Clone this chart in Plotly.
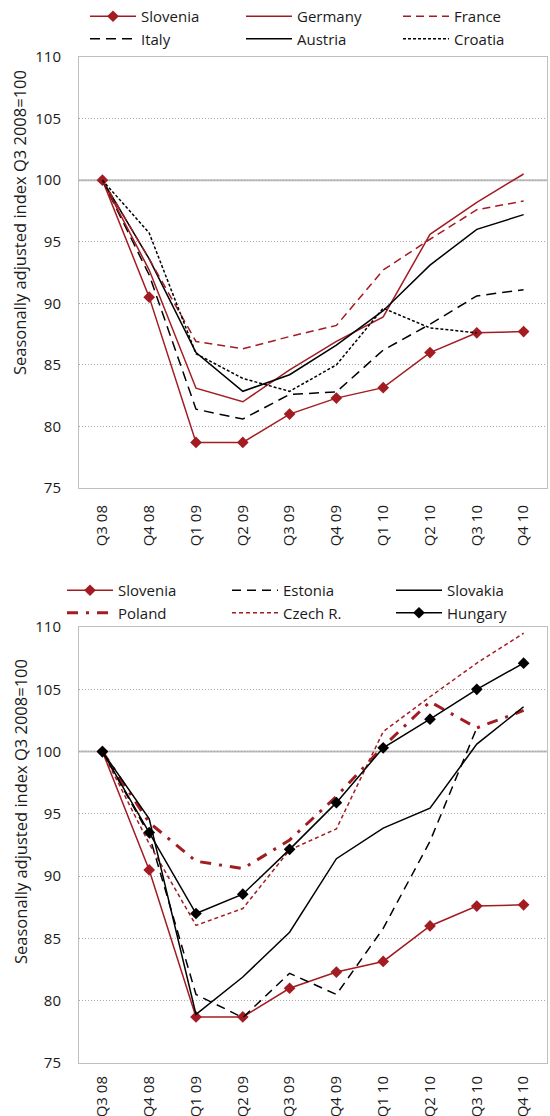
import plotly.graph_objects as go

quarters = ["Q3 08", "Q4 08", "Q1 09", "Q2 09", "Q3 09", "Q4 09", "Q1 10", "Q2 10", "Q3 10", "Q4 10"]

slovenia = [100, 90.5, 78.7, 78.7, 81.0, 82.3, 83.15, 86.0, 87.6, 87.7]
germany = [100, 92.7, 83.1, 82.0, 84.6, 86.9, 88.9, 95.6, 98.2, 100.5]
france = [100, 93.6, 86.9, 86.3, 87.3, 88.2, 92.7, 95.2, 97.6, 98.3]
italy = [100, 92.3, 81.4, 80.6, 82.6, 82.8, 86.2, 88.3, 90.6, 91.1]
austria = [100, 93.6, 86.0, 82.85, 84.2, 86.6, 89.4, 93.1, 96.0, 97.2]
croatia = [100, 95.7, 85.9, 83.9, 82.85, 85.0, 89.6, 88.0, 87.6, None]

estonia = [100, 93.3, 80.5, 78.65, 82.2, 80.5, 85.8, 92.8, 101.9, None]
slovakia = [100, 94.6, 78.9, 81.9, 85.5, 91.4, 93.85, 95.45, 100.6, 103.6]
poland = [100, 94.3, 91.2, 90.6, 92.9, 96.4, 100.4, 104.0, 101.9, 103.3]
czech = [100, 92.6, 86.05, 87.4, 92.1, 93.8, 101.6, 104.4, 107.1, 109.5]
hungary = [100, 93.5, 87.0, 88.55, 92.15, 95.9, 100.3, 102.6, 105.0, 107.1]

y_ticks = [75, 80, 85, 90, 95, 100, 105, 110]
axis_title = "Seasonally adjusted index Q3 2008=100"

RED = "#A21C22"
BLK = "#000000"
TXT = "#1a1a1a"
FONT = "Open Sans"
W, H = 550, 1116
ML, MR = 79, 3
PW = W - ML - MR

fig = go.Figure()

def add(name, ys, color, width, dash, sub, legend, marker=False):
    kw = {}
    if marker:
        mode = "lines+markers"
        kw["marker"] = dict(symbol="diamond", size=9, color=color)
    else:
        mode = "lines"
    fig.add_trace(go.Scatter(
        x=quarters, y=ys, name=name, mode=mode,
        line=dict(color=color, width=width, dash=dash),
        xaxis="x" if sub == 1 else "x2", yaxis="y" if sub == 1 else "y2",
        legend=legend, legendgroup=name + str(sub), connectgaps=False, **kw))

# top chart (legend columns)
add("Slovenia", slovenia, RED, 1.5, "solid", 1, "legend", marker=True)
add("Italy", italy, BLK, 1.5, "10px,6px", 1, "legend")
add("Germany", germany, RED, 1.5, "solid", 1, "legend2")
add("Austria", austria, BLK, 1.5, "solid", 1, "legend2")
add("France", france, RED, 1.5, "8px,5px", 1, "legend3")
add("Croatia", croatia, BLK, 1.5, "3px,2px", 1, "legend3")

# bottom chart
add("Slovenia", slovenia, RED, 1.5, "solid", 2, "legend4", marker=True)
add("Poland", poland, RED, 3, "11px,8px,3px,8px", 2, "legend4")
add("Estonia", estonia, BLK, 1.5, "9px,6px", 2, "legend5")
add("Czech R.", czech, RED, 1.5, "4px,3px", 2, "legend5")
add("Slovakia", slovakia, BLK, 1.5, "solid", 2, "legend6")
add("Hungary", hungary, BLK, 1.5, "solid", 2, "legend6", marker=True)

top_dom = [1 - 488 / H, 1 - 57 / H]
bot_dom = [1 - 1063 / H, 1 - 627 / H]

xcommon = dict(type="category", range=[-0.5, 9.5], tickangle=-90, showgrid=False,
               showline=True, linecolor="#BFBFBF", linewidth=1, mirror=True,
               ticks="", tickfont=dict(family=FONT, size=15, color=TXT),
               fixedrange=True)
ycommon = dict(range=[75, 110], tickvals=y_ticks, showgrid=True, gridcolor="#A8A8A8",
               griddash="1px,2px", gridwidth=1, showline=True, linecolor="#BFBFBF",
               linewidth=1, mirror=True, ticks="", zeroline=False,
               tickfont=dict(family=FONT, size=15, color=TXT),
               ticklabelstandoff=14, fixedrange=True)

def leg(px_line_start, py_top):
    return dict(orientation="v", x=(px_line_start - ML - 5) / PW, xanchor="left",
                y=1 - py_top / H, yanchor="top", itemwidth=46,
                font=dict(family=FONT, size=15, color=TXT),
                bgcolor="rgba(0,0,0,0)", tracegroupgap=0, borderwidth=0)

fig.update_layout(
    width=W, height=H,
    margin=dict(l=ML, r=MR, t=0, b=0, autoexpand=False),
    paper_bgcolor="white", plot_bgcolor="white",
    font=dict(family=FONT, size=14, color=TXT),
    xaxis=dict(domain=[0, 1], anchor="y", ticklabelstandoff=10, **xcommon),
    yaxis=dict(domain=top_dom, anchor="x", **ycommon),
    xaxis2=dict(domain=[0, 1], anchor="y2", ticklabelstandoff=6, **xcommon),
    yaxis2=dict(domain=bot_dom, anchor="x2", **ycommon),
    legend=leg(90, 0),
    legend2=leg(246, 0),
    legend3=leg(403, 0),
    legend4=leg(67, 574),
    legend5=leg(232, 574),
    legend6=leg(396, 574),
    showlegend=True,
)

for yref in ["y", "y2"]:
    xr = "x domain" if yref == "y" else "x2 domain"
    fig.add_shape(type="line", xref=xr, yref=yref, x0=0, x1=1, y0=100, y1=100,
                  line=dict(color="#BDBDBD", width=2), layer="below")

for cy in (223, 812):
    fig.add_annotation(text=axis_title, xref="paper", yref="paper", x=(20 - ML) / PW,
                       y=1 - cy / H, textangle=-90, showarrow=False,
                       font=dict(family=FONT, size=16.5, color=TXT),
                       xanchor="center", yanchor="middle")

fig.write_html("out.html", config={"displayModeBar": False},
               post_script="document.body.style.margin='0';")
